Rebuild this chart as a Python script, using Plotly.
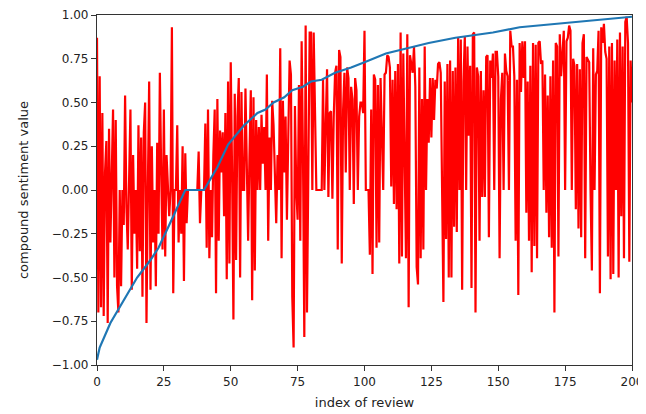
import numpy as np
import plotly.graph_objects as go

# compound score of each review, in original order (two samples per index unit)
compound_0_40 = [
    0.87, -0.70, 0.65, -0.67, 0.44, -0.72, 0.10, 0.28, -0.76, 0.35,
    -0.30, 0.0, 0.46, -0.50, 0.40, -0.55, -0.70, 0.0, -0.55, 0.0,
    -0.20, 0.54, -0.10, -0.34, 0.0, 0.46, -0.57, 0.20, -0.25, 0.0,
    -0.45, 0.37, -0.35, 0.30, -0.61, 0.33, 0.50, -0.76, 0.0, 0.62,
    -0.57, 0.25, -0.30, 0.0, -0.55, 0.27, -0.25, 0.67, 0.10, -0.34,
    0.46, -0.38, 0.20, 0.0, -0.15, 0.0, 0.93, -0.59, 0.0, 0.0,
    0.37, -0.30, 0.0, -0.25, 0.25, -0.52, 0.21, -0.19, 0.0, 0.0,
    0.0, 0.0, 0.0, 0.0, 0.0, 0.0, 0.22, -0.19, 0.0, 0.0,
]
compound_40_80 = [
    0.0, 0.38, -0.33, 0.46, -0.39, 0.0, -0.27, 0.20, 0.46, -0.59,
    0.52, -0.29, 0.34, 0.10, 0.33, -0.15, 0.44, -0.51, 0.62, -0.42,
    0.73, 0.10, -0.74, 0.55, -0.40, 0.42, 0.64, -0.50, 0.56, 0.0,
    0.0, 0.58, 0.10, -0.29, 0.20, 0.57, -0.63, 0.53, -0.46, 0.40,
    0.0, 0.36, 0.0, 0.43, 0.15, 0.36, 0.0, 0.66, -0.29, 0.30,
    0.0, 0.51, 0.37, 0.0, -0.19, 0.20, 0.0, 0.81, -0.39, 0.51,
    0.10, 0.42, -0.17, 0.30, 0.74, 0.66, -0.61, -0.90, 0.48, 0.0,
    -0.17, 0.60, -0.29, 0.85, 0.20, -0.84, 0.94, -0.70, 0.30, 0.90,
]
compound_80_120 = [
    0.90, 0.0, 0.90, 0.48, 0.0, 0.0, 0.0, 0.0, 0.0, 0.63,
    0.0, 0.37, 0.69, -0.04, 0.44, 0.45, -0.05, 0.42, 0.67, 0.71,
    -0.34, 0.80, 0.76, -0.42, 0.46, 0.67, 0.10, 0.70, 0.64, 0.0,
    0.59, 0.52, -0.08, 0.64, 0.57, 0.0, 0.42, 0.50, 0.50, 0.44,
    0.91, 0.0, 0.0, 0.0, -0.37, 0.46, -0.48, 0.66, 0.63, -0.33,
    0.60, -0.30, 0.64, 0.36, 0.0, 0.66, 0.67, 0.77, 0.76, 0.70,
    0.02, 0.63, -0.08, 0.68, -0.11, 0.72, -0.42, 0.90, -0.38, 0.78,
    0.0, -0.39, 0.89, -0.67, 0.77, 0.72, 0.67, 0.82, 0.59, -0.44,
]
compound_120_160 = [
    -0.54, 0.70, -0.39, 0.52, -0.34, 0.82, 0.0, 0.52, 0.27, 0.64,
    0.30, 0.64, 0.40, 0.63, 0.58, 0.72, 0.73, 0.67, 0.0, -0.64,
    0.62, -0.28, 0.72, -0.50, 0.74, -0.50, 0.68, -0.21, 0.70, -0.24,
    0.87, 0.0, 0.86, -0.57, 0.62, 0.88, 0.0, 0.82, 0.31, 0.71,
    -0.56, 0.89, 0.90, -0.70, 0.70, 0.65, -0.29, 0.68, -0.04, 0.57,
    -0.04, 0.76, 0.77, -0.27, 0.74, 0.64, 0.78, 0.0, 0.79, 0.79,
    0.65, -0.39, 0.52, 0.67, 0.0, 0.78, 0.68, 0.65, 0.0, 0.91,
    0.82, 0.82, 0.65, -0.29, 0.63, -0.60, 0.84, 0.56, 0.85, 0.64,
]
compound_160_200 = [
    0.85, -0.13, 0.62, -0.29, 0.71, -0.47, 0.84, -0.32, 0.83, -0.39,
    0.84, 0.85, 0.72, 0.74, 0.0, 0.66, -0.13, 0.54, -0.27, 0.65,
    -0.33, 0.74, -0.70, 0.84, 0.82, -0.38, 0.89, 0.65, 0.78, 0.91,
    0.0, 0.85, 0.87, 0.94, 0.91, 0.0, 0.75, 0.71, -0.11, 0.72,
    -0.22, 0.69, -0.27, 0.84, 0.89, -0.39, 0.76, 0.74, 0.73, 0.0,
    -0.46, 0.81, 0.0, 0.66, 0.68, 0.91, -0.59, 0.93, 0.84, 0.95,
    0.79, 0.75, -0.38, 0.82, -0.51, 0.84, -0.48, 0.74, 0.0, 0.86,
    -0.50, 0.90, -0.15, 0.82, -0.39, 0.96, 0.99, 0.84, -0.41, 0.74,
    0.50,
]
compound = (compound_0_40 + compound_40_80 + compound_80_120
            + compound_120_160 + compound_160_200)
review_index = np.linspace(0, 200, len(compound))

# running (smoothed) sentiment curve
trend_index = [0, 1, 5, 10, 15, 20, 23, 27, 30, 33, 40, 45, 49, 55, 60, 63,
               66, 70, 73, 77, 80, 84, 89, 95, 100, 108, 116, 124, 134, 148,
               158, 178, 200]
trend_value = [-0.97, -0.90, -0.76, -0.63, -0.50, -0.40, -0.33, -0.20, -0.10,
               0.0, 0.0, 0.13, 0.26, 0.37, 0.44, 0.46, 0.50, 0.53, 0.57, 0.59,
               0.62, 0.63, 0.67, 0.70, 0.73, 0.78, 0.81, 0.84, 0.87, 0.90,
               0.93, 0.96, 0.99]

x_ticks = [0, 25, 50, 75, 100, 125, 150, 175, 200]
y_ticks = [-1.0, -0.75, -0.5, -0.25, 0.0, 0.25, 0.5, 0.75, 1.0]

fig = go.Figure()
fig.add_trace(go.Scatter(x=review_index, y=compound, mode="lines",
                         line=dict(color="red", width=2.2), showlegend=False))
fig.add_trace(go.Scatter(x=trend_index, y=trend_value, mode="lines",
                         line=dict(color="#1f77b4", width=2.2),
                         showlegend=False))

axis_style = dict(showline=True, linecolor="#333", linewidth=1.2, mirror=True,
                  ticks="outside", ticklen=5, tickcolor="#333", showgrid=False,
                  zeroline=False, automargin=False,
                  tickfont=dict(size=12, color="#222"))

# the page body has an 8px margin, so the figure is sized/shifted to fit the window
fig.update_layout(
    width=638, height=406,
    margin=dict(l=89, r=14, t=7, b=49),
    paper_bgcolor="white", plot_bgcolor="white",
    font=dict(family="DejaVu Sans", size=12, color="#222"),
    xaxis=dict(range=[0, 200], tickvals=x_ticks,
               title=dict(text="index of review", standoff=10,
                          font=dict(size=13)), **axis_style),
    yaxis=dict(range=[-1, 1], tickvals=y_ticks, tickformat=".2f",
               title=dict(text="compound sentiment value", standoff=20,
                          font=dict(size=13)), **axis_style),
)

fig.write_html("out.html")
